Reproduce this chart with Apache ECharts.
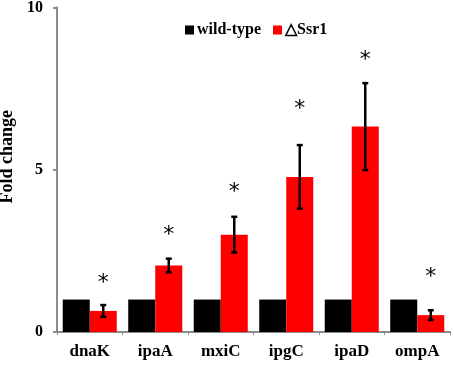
<!DOCTYPE html>
<html>
<head>
<meta charset="utf-8">
<script src="https://cdn.jsdelivr.net/npm/echarts@6/dist/echarts.min.js"></script>
<style>html,body{margin:0;padding:0;background:#fff}#c{width:454px;height:370px}</style>
</head>
<body>
<div id="c"></div>
<script>
var categories = ['dnaK', 'ipaA', 'mxiC', 'ipgC', 'ipaD', 'ompA'];
var wildType = [1, 1, 1, 1, 1, 1];
var ssr1 = [0.65, 2.05, 3.0, 4.78, 6.33, 0.52];
var ssr1Err = [0.18, 0.21, 0.55, 0.98, 1.34, 0.15];
var starY = [1.63, 3.1, 4.42, 7.0, 8.5, 1.8];
var yTicks = [0, 5, 10];

var chart = echarts.init(document.getElementById('c'));
var serif = '"Liberation Serif", "Times New Roman", serif';
var gapPct = 0.175;

chart.setOption({
  animation: false,
  grid: { left: 57, right: 4, top: 7.5, bottom: 38, containLabel: false, outerBoundsMode: 'none' },
  legend: {
    top: 17, left: 180,
    itemWidth: 9, itemHeight: 9, itemGap: 12,
    icon: 'rect',
    textStyle: { fontFamily: serif, fontWeight: 'bold', fontSize: 16, color: '#000', padding: [0, 0, 0, -2] },
    data: ['wild-type', '△Ssr1']
  },
  xAxis: {
    type: 'category',
    data: categories,
    axisLine: { lineStyle: { color: '#8c8c8c', width: 2 } },
    axisTick: { show: true, length: 3, lineStyle: { color: '#8c8c8c', width: 1 } },
    axisLabel: { fontFamily: serif, fontWeight: 'bold', fontSize: 17, color: '#000', margin: 11 }
  },
  yAxis: {
    type: 'value', min: 0, max: 10, interval: 5,
    name: 'Fold change', nameLocation: 'middle', nameGap: 26, nameRotate: 90,
    nameTextStyle: { fontFamily: serif, fontWeight: 'bold', fontSize: 18, color: '#000', padding: [0, 0, 0, 26] },
    axisLine: { show: true, lineStyle: { color: '#8c8c8c', width: 2 } },
    axisTick: { show: true, length: 4, lineStyle: { color: '#8c8c8c', width: 2 } },
    axisLabel: { fontFamily: serif, fontWeight: 'bold', fontSize: 16, color: '#000', margin: 14,
      formatter: function (v) { return yTicks.indexOf(v) >= 0 ? String(v) : ''; } },
    splitLine: { show: false }
  },
  series: [
    { name: 'wild-type', type: 'bar', data: wildType, itemStyle: { color: '#000' },
      barGap: '0%', barCategoryGap: (gapPct * 100) + '%' },
    { name: '△Ssr1', type: 'bar', data: ssr1, itemStyle: { color: '#ff0000' } },
    {
      type: 'custom', name: 'err', silent: true, z: 5,
      data: ssr1.map(function (v, i) { return [i, v - ssr1Err[i], v + ssr1Err[i]]; }),
      renderItem: function (params, api) {
        var band = api.size([1, 0])[0];
        var off = band * (1 - gapPct) / 4;
        var lo = api.coord([api.value(0), api.value(1)]);
        var hi = api.coord([api.value(0), api.value(2)]);
        var x = lo[0] + off;
        var style = { stroke: '#000', lineWidth: 2.5 };
        return { type: 'group', children: [
          { type: 'line', shape: { x1: x, y1: lo[1], x2: x, y2: hi[1] }, style: style },
          { type: 'line', shape: { x1: x - 3, y1: lo[1], x2: x + 3, y2: lo[1] }, style: style },
          { type: 'line', shape: { x1: x - 3, y1: hi[1], x2: x + 3, y2: hi[1] }, style: style }
        ] };
      }
    },
    {
      type: 'custom', name: 'star', silent: true, z: 6,
      data: starY.map(function (v, i) { return [i, v]; }),
      renderItem: function (params, api) {
        var band = api.size([1, 0])[0];
        var off = band * (1 - gapPct) / 4;
        var p = api.coord([api.value(0), api.value(1)]);
        return { type: 'text', x: p[0] + off, y: p[1] + 4,
          style: { text: '*', fill: '#000', font: '22px "DejaVu Sans", sans-serif', align: 'center', verticalAlign: 'middle' } };
      }
    }
  ]
});
</script>
</body>
</html>
